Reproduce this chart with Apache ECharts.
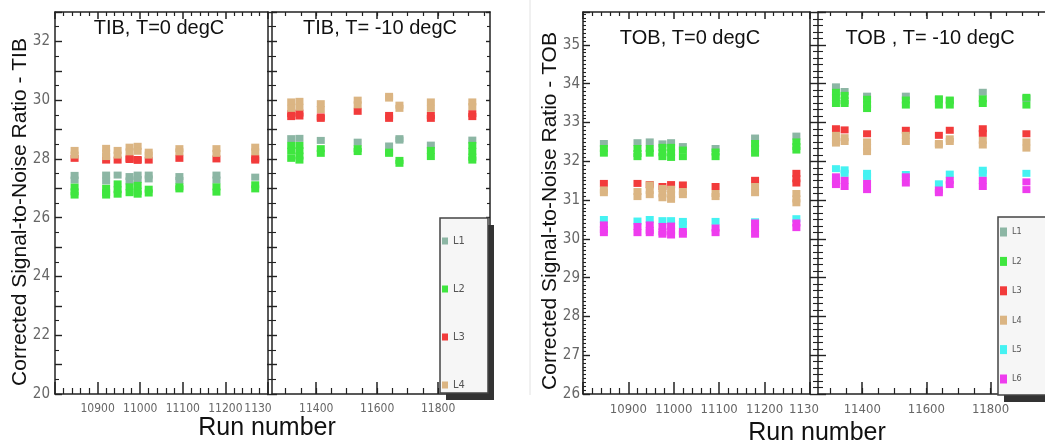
<!DOCTYPE html>
<html>
<head>
<meta charset="utf-8">
<title>Corrected Signal-to-Noise Ratio vs run number</title>
<script src="https://cdn.jsdelivr.net/npm/echarts@6/dist/echarts.min.js"></script>
<style>
    html, body { margin: 0; padding: 0; background: #fff; }
    #chart { width: 1045px; height: 446px; }
</style>
</head>
<body>
<div id="chart"></div>
<script>
// run numbers of the two periods (T=0 and T=-10 degC)
var runsWarm = [10846, 10920, 10947, 10975, 10994, 11020, 11092, 11179, 11270];
var runsCold = [11318, 11345, 11415, 11536, 11639, 11673, 11776, 11912];

// tick values
var coldMajorTicks = [11400, 11600, 11800];
var coldMinorTicks = [11300, 11350, 11400, 11450, 11500, 11550, 11600, 11650, 11700, 11750, 11800, 11850, 11900, 11950];
var tibYLabels = [20, 22, 24, 26, 28, 30, 32];
var tobYLabels = [26, 27, 28, 29, 30, 31, 32, 33, 34, 35];
var layerNames = ['L1', 'L2', 'L3', 'L4', 'L5', 'L6'];

// TIB, T=0 : corrected S/N of each layer, one list per run
var tibWarmL1 = [[27.44, 27.28], [27.45, 27.25], [27.45], [27.4, 27.25], [27.45, 27.3], [27.45, 27.32], [27.4, 27.27], [27.45, 27.28], [27.38]];
var tibWarmL2 = [[27.04, 26.88, 26.77], [27.0, 26.85, 26.77], [27.15, 26.95, 26.8], [27.05, 26.85], [27.1, 26.9, 26.8], [26.97, 26.84], [27.05, 26.98], [27.05, 26.87], [27.12, 26.98]];
var tibWarmL3 = [[28.02], [27.96], [27.96], [28.02, 27.98], [27.98, 27.95], [27.96], [28.02], [28.0], [28.02, 27.96]];
var tibWarmL4 = [[28.29, 28.13], [28.36, 28.2, 28.08], [28.29, 28.13], [28.4, 28.24], [28.43, 28.26], [28.23, 28.13], [28.35, 28.24], [28.35, 28.19], [28.4, 28.24]];

// TIB, T=-10
var tibColdL1 = [[28.69], [28.7], [28.63], [28.57], [28.44], [28.69, 28.64], [28.47], [28.64]];
var tibColdL2 = [[28.46, 28.26, 28.02], [28.46, 28.28, 28.1, 27.96], [28.35, 28.19], [28.35, 28.25], [28.23, 28.19], [27.95, 27.85], [28.29, 28.08], [28.46, 28.26, 28.06, 27.96]];
var tibColdL3 = [[29.54, 29.44], [29.56, 29.46], [29.43, 29.38], [29.62], [29.48, 29.38], [], [29.48, 29.38], [29.54, 29.44]];
var tibColdL4 = [[29.94, 29.72], [29.96, 29.76], [29.88, 29.68], [30.0, 29.84], [30.13, 30.07], [29.83, 29.72], [29.94, 29.72], [29.94, 29.78]];

// TOB, T=0
var tobWarmL1 = [[32.46], [32.48], [32.5], [32.45], [32.48], [32.38], [32.33], [32.6], [32.65]];
var tobWarmL2 = [[32.33, 32.21], [32.33, 32.2, 32.12], [32.33, 32.21], [32.36, 32.22, 32.12], [32.36, 32.22, 32.1], [32.29, 32.12], [32.24, 32.12], [32.46, 32.33, 32.21], [32.5, 32.38, 32.29]];
var tobWarmL3 = [[31.43], [31.43], [31.4], [31.35], [31.4], [31.39], [31.35], [31.51], [31.69, 31.55, 31.44]];
var tobWarmL4 = [[31.26, 31.19], [31.22, 31.09], [31.39, 31.25, 31.14], [31.3, 31.16, 31.06], [31.28, 31.14, 31.02], [31.22, 31.14], [31.17, 31.09], [31.35, 31.19], [31.17, 31.03, 30.93]];
var tobWarmL5 = [[30.5], [30.46], [30.5], [30.47], [30.47], [30.45, 30.37], [30.45], [30.44], [30.52]];
var tobWarmL6 = [[30.36, 30.24, 30.16], [30.32, 30.16], [30.36, 30.22, 30.16], [30.32, 30.18, 30.12], [30.33, 30.2, 30.1], [30.19, 30.12], [30.28, 30.16], [30.41, 30.26, 30.12], [30.41, 30.29]];

// TOB, T=-10
var tobColdL1 = [[33.92], [33.8], [33.68], [33.68], [33.6], [33.56], [33.78], [33.62]];
var tobColdL2 = [[33.78, 33.64, 33.49], [33.7, 33.56, 33.49], [33.6, 33.46, 33.36], [33.58, 33.45], [33.61, 33.45], [33.58, 33.45], [33.61, 33.49], [33.65, 33.45]];
var tobColdL3 = [[32.84], [32.81], [32.71], [32.8], [32.67], [32.8], [32.84, 32.72], [32.71]];
var tobColdL4 = [[32.67, 32.53, 32.47], [32.61, 32.51], [32.5, 32.36, 32.25], [32.67, 32.51], [32.46, 32.42], [32.58, 32.51], [32.54, 32.42], [32.5, 32.34]];
var tobColdL5 = [[31.81], [31.78, 31.69], [31.69, 31.61], [31.66], [31.42], [31.67], [31.77, 31.69], [31.69]];
var tobColdL6 = [[31.6, 31.48, 31.4], [31.51, 31.35], [31.43, 31.27], [31.6, 31.44], [31.26, 31.19], [31.51, 31.4], [31.51, 31.35], [31.47, 31.27]];

var narrowFont = '"Liberation Sans Narrow", "DejaVu Sans Condensed", "Arial Narrow", sans-serif';
var plainFont = '"Liberation Sans", Arial, sans-serif';
var axisColor = '#222';
var labelColor = '#666';
var layerColors = ['#8cb6a4', '#3fe63f', '#f23b3b', '#dbb583', '#45f2f2', '#ee3cee'];

var chart = echarts.init(document.getElementById('chart'));

var pointsOf = function (runs, perRun) {
    var out = [];
    for (var i = 0; i < runs.length; i++) {
        for (var j = 0; j < perRun[i].length; j++) {
            out.push([runs[i], perRun[i][j]]);
        }
    }
    return out;
};

var lineOn = function () { return { show: true, onZero: false, lineStyle: { color: axisColor, width: 1.5 } }; };
var lineOff = function () { return { show: false, onZero: false }; };

// x axes: bottom ones carry labels and long ticks, top ones short ticks
var xAxes = [];
var warmX = function (grid, pos, fontSize, cutPad) {
    var bottom = pos === 'bottom';
    xAxes.push({
        gridIndex: grid, type: 'value', position: pos, min: 10800, max: 11300, interval: 100,
        axisLine: lineOn(),
        axisTick: { show: true, inside: true, length: bottom ? 12 : 7, lineStyle: { color: axisColor, width: 1.5 } },
        minorTick: { show: true, splitNumber: 5, length: bottom ? 6 : 4, lineStyle: { color: axisColor, width: 1.2 } },
        splitLine: { show: false }, minorSplitLine: { show: false },
        axisLabel: {
            show: bottom, margin: 9, color: labelColor, fontFamily: narrowFont, fontSize: fontSize,
            showMinLabel: true, showMaxLabel: true,
            formatter: function (v) {
                if (v === 10800) return '';
                if (v === 11300) return '{cut|1130}';
                return String(v);
            },
            rich: { cut: { padding: [0, cutPad, 0, 0], color: labelColor, fontFamily: narrowFont, fontSize: fontSize } }
        }
    });
    return xAxes.length - 1;
};
var coldX = function (grid, pos, min, fontSize) {
    var bottom = pos === 'bottom';
    var idx = xAxes.length;
    xAxes.push({
        gridIndex: grid, type: 'value', position: pos, min: min, max: 11970,
        axisLine: lineOn(),
        axisTick: { show: true, inside: true, length: bottom ? 12 : 7, customValues: coldMajorTicks, lineStyle: { color: axisColor, width: 1.5 } },
        splitLine: { show: false },
        axisLabel: {
            show: bottom, customValues: coldMajorTicks, margin: 9, color: labelColor, fontFamily: narrowFont, fontSize: fontSize,
            formatter: function (v) { return String(v); }
        }
    });
    xAxes.push({
        gridIndex: grid, type: 'value', position: pos, min: min, max: 11970,
        axisLine: lineOff(),
        axisTick: { show: true, inside: true, length: bottom ? 6 : 4, customValues: coldMinorTicks, lineStyle: { color: axisColor, width: 1.2 } },
        splitLine: { show: false },
        axisLabel: { show: false }
    });
    return idx;
};

var xTibWarm = warmX(0, 'bottom', 12, 20);
warmX(0, 'top', 12, 0);
var xTibCold = coldX(1, 'bottom', 11255, 12);
coldX(1, 'top', 11255, 12);
var xTobWarm = warmX(2, 'bottom', 13, 12);
warmX(2, 'top', 13, 0);
var xTobCold = coldX(3, 'bottom', 11262, 13);
coldX(3, 'top', 11262, 13);

// y axes -----------------------------------------------------------
var yAxes = [];
var yAxis = function (grid, pos, range, ticks) {
    yAxes.push({
        gridIndex: grid, type: 'value', position: pos, min: range[0], max: range[1], interval: 1,
        axisLine: ticks.line ? lineOn() : lineOff(),
        axisTick: { show: ticks.length > 0, inside: ticks.inside, length: ticks.length, lineStyle: { color: axisColor, width: 1.4 } },
        minorTick: { show: ticks.minor > 0, splitNumber: ticks.split, length: ticks.minor, lineStyle: { color: axisColor, width: 1.1 } },
        splitLine: { show: false }, minorSplitLine: { show: false },
        axisLabel: ticks.labels ? {
            show: true, margin: ticks.margin, color: labelColor, fontFamily: narrowFont, fontSize: 15,
            formatter: function (v) { return ticks.labels.indexOf(v) >= 0 ? String(v) : ''; }
        } : { show: false }
    });
    return yAxes.length - 1;
};

var tibRange = [20, 33];
var tobRange = [26, 35.85];
var yTibWarm = yAxis(0, 'left', tibRange, { line: true, inside: true, length: 7, minor: 4, split: 2, labels: tibYLabels, margin: 5 });
yAxis(0, 'right', tibRange, { line: true, inside: false, length: 0, minor: 0, split: 2 });
var yTibCold = yAxis(1, 'left', tibRange, { line: true, inside: true, length: 5, minor: 4, split: 2 });
yAxis(1, 'left', tibRange, { line: false, inside: false, length: 5, minor: 4, split: 2 });
yAxis(1, 'right', tibRange, { line: true, inside: true, length: 4, minor: 3, split: 2 });
var yTobWarm = yAxis(2, 'left', tobRange, { line: true, inside: true, length: 7, minor: 3, split: 10, labels: tobYLabels, margin: 3 });
yAxis(2, 'right', tobRange, { line: true, inside: false, length: 0, minor: 0, split: 6 });
var yTobCold = yAxis(3, 'left', tobRange, { line: true, inside: true, length: 8, minor: 5, split: 6 });
yAxis(3, 'left', tobRange, { line: false, inside: false, length: 8, minor: 5, split: 6 });

// series -----------------------------------------------------------
var series = [];
var addLayers = function (layers, runs, xIdx, yIdx) {
    for (var k = 0; k < layers.length; k++) {
        series.push({
            type: 'scatter', name: layerNames[k], xAxisIndex: xIdx, yAxisIndex: yIdx,
            symbol: 'rect', symbolSize: [8, 7], silent: true,
            itemStyle: { color: layerColors[k], opacity: 1 },
            data: pointsOf(runs, layers[k])
        });
    }
};
addLayers([tibWarmL1, tibWarmL2, tibWarmL3, tibWarmL4], runsWarm, xTibWarm, yTibWarm);
addLayers([tibColdL1, tibColdL2, tibColdL3, tibColdL4], runsCold, xTibCold, yTibCold);
addLayers([tobWarmL1, tobWarmL2, tobWarmL3, tobWarmL4, tobWarmL5, tobWarmL6], runsWarm, xTobWarm, yTobWarm);
addLayers([tobColdL1, tobColdL2, tobColdL3, tobColdL4, tobColdL5, tobColdL6], runsCold, xTobCold, yTobCold);

// texts and legend boxes -------------------------------------------
var label = function (text, x, y, size, rotation) {
    return {
        type: 'text', x: x, y: y, rotation: rotation || 0, z: 30, silent: true,
        style: { text: text, fill: '#111', font: size + 'px ' + plainFont, align: 'center', verticalAlign: 'middle' }
    };
};
var box = function (x, y, w, h) {
    return [
        { type: 'rect', z: 9, silent: true, shape: { x: x + 6, y: y + 7, width: w, height: h }, style: { fill: '#333' } },
        { type: 'rect', z: 10, silent: true, shape: { x: x, y: y, width: w, height: h }, style: { fill: '#f6f6f6', stroke: '#444', lineWidth: 1.5 } }
    ];
};

var graphics = [
    { type: 'line', z: 1, silent: true, shape: { x1: 530, y1: 0, x2: 530, y2: 395 }, style: { stroke: '#e2e2e2', lineWidth: 1 } },
    label('TIB, T=0 degC', 159, 28, 20),
    label('TIB, T= -10 degC', 380, 28, 20),
    label('TOB, T=0 degC', 690, 38, 20),
    label('TOB , T= -10 degC', 930, 38, 20),
    label('Run number', 267, 428, 25),
    label('Run number', 817, 433, 25),
    label('Corrected Signal-to-Noise Ratio - TIB', 20, 212, 21, Math.PI / 2),
    label('Corrected Signal-to-Noise Ratio - TOB', 550, 211, 21, Math.PI / 2)
].concat(box(440, 218, 48, 175), box(998, 217, 60, 178));

chart.setOption({
    animation: false,
    backgroundColor: '#fff',
    grid: [
        { left: 55, top: 12, width: 213, height: 382 },
        { left: 272, top: 12, width: 218, height: 382 },
        { left: 583, top: 12, width: 227, height: 382 },
        { left: 818, top: 12, width: 233, height: 382 }
    ],
    xAxis: xAxes,
    yAxis: yAxes,
    legend: [
        {
            data: layerNames.slice(0, 4), orient: 'vertical', left: 442, top: 235.5, padding: 0, z: 40,
            icon: 'rect', itemWidth: 6, itemHeight: 7, itemGap: 37, selectedMode: false,
            textStyle: { color: '#555', fontFamily: narrowFont, fontSize: 11 }
        },
        {
            data: layerNames, orient: 'vertical', left: 1000, top: 227.5, padding: 0, z: 40,
            icon: 'rect', itemWidth: 7, itemHeight: 9, itemGap: 20.4, selectedMode: false,
            textStyle: { color: '#555', fontFamily: narrowFont, fontSize: 9 }
        }
    ],
    graphic: graphics,
    series: series
});
</script>
</body>
</html>
